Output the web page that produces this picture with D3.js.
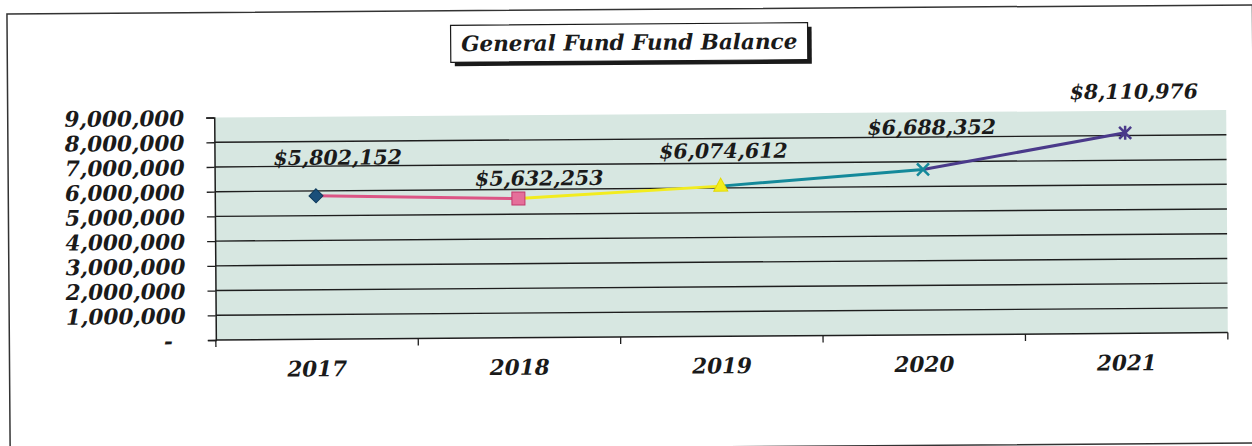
<!DOCTYPE html>
<html>
<head>
<meta charset="utf-8">
<script src="https://cdn.jsdelivr.net/npm/d3@7/dist/d3.min.js"></script>
<style>
  html, body { margin: 0; padding: 0; background: #fff; }
  svg { display: block; }
  text { font-family: "DejaVu Serif", serif; font-weight: bold; font-style: italic; fill: #1a1a1a; }
</style>
</head>
<body>
<svg id="chart" width="1252" height="446"></svg>
<script>
// Fiscal years and year-end General Fund balances
const years = ["2017", "2018", "2019", "2020", "2021"];
const balances = [5802152, 5632253, 6074612, 6688352, 8110976];
const yTicks = [0, 1000000, 2000000, 3000000, 4000000, 5000000, 6000000, 7000000, 8000000, 9000000];
const title = "General Fund Fund Balance";

// Per-point styling (marker shape and colour; a segment takes the colour of the point it ends at)
const markerShapes = ["diamond", "square", "triangle", "x", "star"];
const pointColors = ["#1b4f7a", "#dc5585", "#f2ec1e", "#14899a", "#4a3a8a"];
const labelDx = [22, 21, 3, 9, 9];
const labelDy = [-31, -13, -28, -35, -34];

const svg = d3.select("#chart");
// the whole page sits very slightly tilted
const root = svg.append("g").attr("transform", "rotate(-0.42 626 223)");

// outer frame
root.append("rect")
  .attr("x", 8.5).attr("y", 9.5).attr("width", 1245.5).attr("height", 438)
  .attr("fill", "none").attr("stroke", "#333").attr("stroke-width", 1.5);

// plot geometry
const plotL = 215, plotR = 1227, plotT = 114.5, plotB = 337;

const x = d3.scaleBand().domain(years).range([plotL, plotR]).padding(0);
const y = d3.scaleLinear().domain([0, 9000000]).range([plotB, plotT]);

// plot background
root.append("rect")
  .attr("x", plotL).attr("y", y(9000000))
  .attr("width", plotR - plotL).attr("height", y(0) - y(9000000))
  .attr("fill", "#d7e7e1");

// horizontal gridlines
root.append("g")
  .selectAll("line")
  .data(yTicks.filter(d => d > 0 && d < 9000000))
  .join("line")
  .attr("x1", plotL).attr("x2", plotR)
  .attr("y1", d => y(d)).attr("y2", d => y(d))
  .attr("stroke", "#1e1e1e").attr("stroke-width", 1.4);

// y axis
const fmt = d3.format(",");
const yAxis = root.append("g")
  .attr("transform", `translate(${plotL},0)`)
  .call(d3.axisLeft(y).tickValues(yTicks).tickSize(8).tickPadding(22)
    .tickFormat(d => d === 0 ? "-" : fmt(d)));
yAxis.select(".domain").attr("stroke", "#1e1e1e").attr("stroke-width", 1.5);
yAxis.selectAll(".tick line").attr("stroke", "#1e1e1e").attr("stroke-width", 1.3);
yAxis.selectAll(".tick text")
  .attr("font-size", 21.5).attr("font-family", null).attr("fill", "#1a1a1a")
  .attr("dy", "0.36em");
yAxis.selectAll(".tick").filter(d => d === 0).select("text").attr("dx", -13);

// x axis: line, boundary ticks between categories, centred labels
const xAxis = root.append("g").attr("transform", `translate(0,${plotB})`);
xAxis.append("line")
  .attr("x1", plotL).attr("x2", plotR).attr("y1", 0).attr("y2", 0)
  .attr("stroke", "#1e1e1e").attr("stroke-width", 1.5);
xAxis.selectAll("line.bound")
  .data(d3.range(years.length + 1))
  .join("line").attr("class", "bound")
  .attr("x1", i => plotL + i * x.step()).attr("x2", i => plotL + i * x.step())
  .attr("y1", 0).attr("y2", 7)
  .attr("stroke", "#1e1e1e").attr("stroke-width", 1.3);
xAxis.selectAll("text")
  .data(years)
  .join("text")
  .attr("x", d => x(d) + x.bandwidth() / 2)
  .attr("y", 37)
  .attr("text-anchor", "middle")
  .attr("font-size", 21.5)
  .text(d => d);

// series
const pts = years.map((yr, i) => ({ yr, v: balances[i], i,
  px: x(yr) + x.bandwidth() / 2, py: y(balances[i]) }));

// coloured segments
root.append("g")
  .selectAll("line")
  .data(pts.slice(1))
  .join("line")
  .attr("x1", d => pts[d.i - 1].px).attr("y1", d => pts[d.i - 1].py)
  .attr("x2", d => d.px).attr("y2", d => d.py)
  .attr("stroke", d => pointColors[d.i])
  .attr("stroke-width", 3)
  .attr("stroke-linecap", "round");

// markers
const mg = root.append("g");
pts.forEach(p => {
  const g = mg.append("g").attr("transform", `translate(${p.px},${p.py})`);
  const c = pointColors[p.i];
  const s = markerShapes[p.i];
  if (s === "diamond") {
    g.append("path").attr("d", "M0,-7L7,0L0,7L-7,0Z")
      .attr("fill", c).attr("stroke", "#0f3a5c").attr("stroke-width", 1);
  } else if (s === "square") {
    g.append("rect").attr("x", -6.5).attr("y", -6.5).attr("width", 13).attr("height", 13)
      .attr("fill", "#e56f9a").attr("stroke", "#c2386d").attr("stroke-width", 1);
  } else if (s === "triangle") {
    g.append("path").attr("d", "M0,-8L7,5L-7,5Z")
      .attr("fill", c).attr("stroke", "#e3d800").attr("stroke-width", 1);
  } else if (s === "x") {
    g.append("path").attr("d", "M-6,-6L6,6M-6,6L6,-6")
      .attr("stroke", c).attr("stroke-width", 2.5).attr("fill", "none");
  } else {
    g.append("path").attr("d", "M-6,-6L6,6M-6,6L6,-6M0,-7L0,7")
      .attr("stroke", c).attr("stroke-width", 2.5).attr("fill", "none");
  }
});

// value labels
const money = d => "$" + fmt(d);
root.append("g")
  .selectAll("text")
  .data(pts)
  .join("text")
  .attr("x", d => d.px + labelDx[d.i])
  .attr("y", d => d.py + labelDy[d.i])
  .attr("text-anchor", "middle")
  .attr("font-size", 20.5)
  .text(d => money(d.v));

// title box with drop shadow
const tb = { x: 452, y: 24, w: 357, h: 37 };
root.append("rect")
  .attr("x", tb.x + 4).attr("y", tb.y + 4).attr("width", tb.w).attr("height", tb.h)
  .attr("fill", "#1a1a1a");
root.append("rect")
  .attr("x", tb.x).attr("y", tb.y).attr("width", tb.w).attr("height", tb.h)
  .attr("fill", "#fff").attr("stroke", "#1a1a1a").attr("stroke-width", 1.2);
root.append("text")
  .attr("x", tb.x + tb.w / 2).attr("y", tb.y + 26)
  .attr("text-anchor", "middle")
  .attr("font-size", 21.5)
  .text(title);
</script>
</body>
</html>
